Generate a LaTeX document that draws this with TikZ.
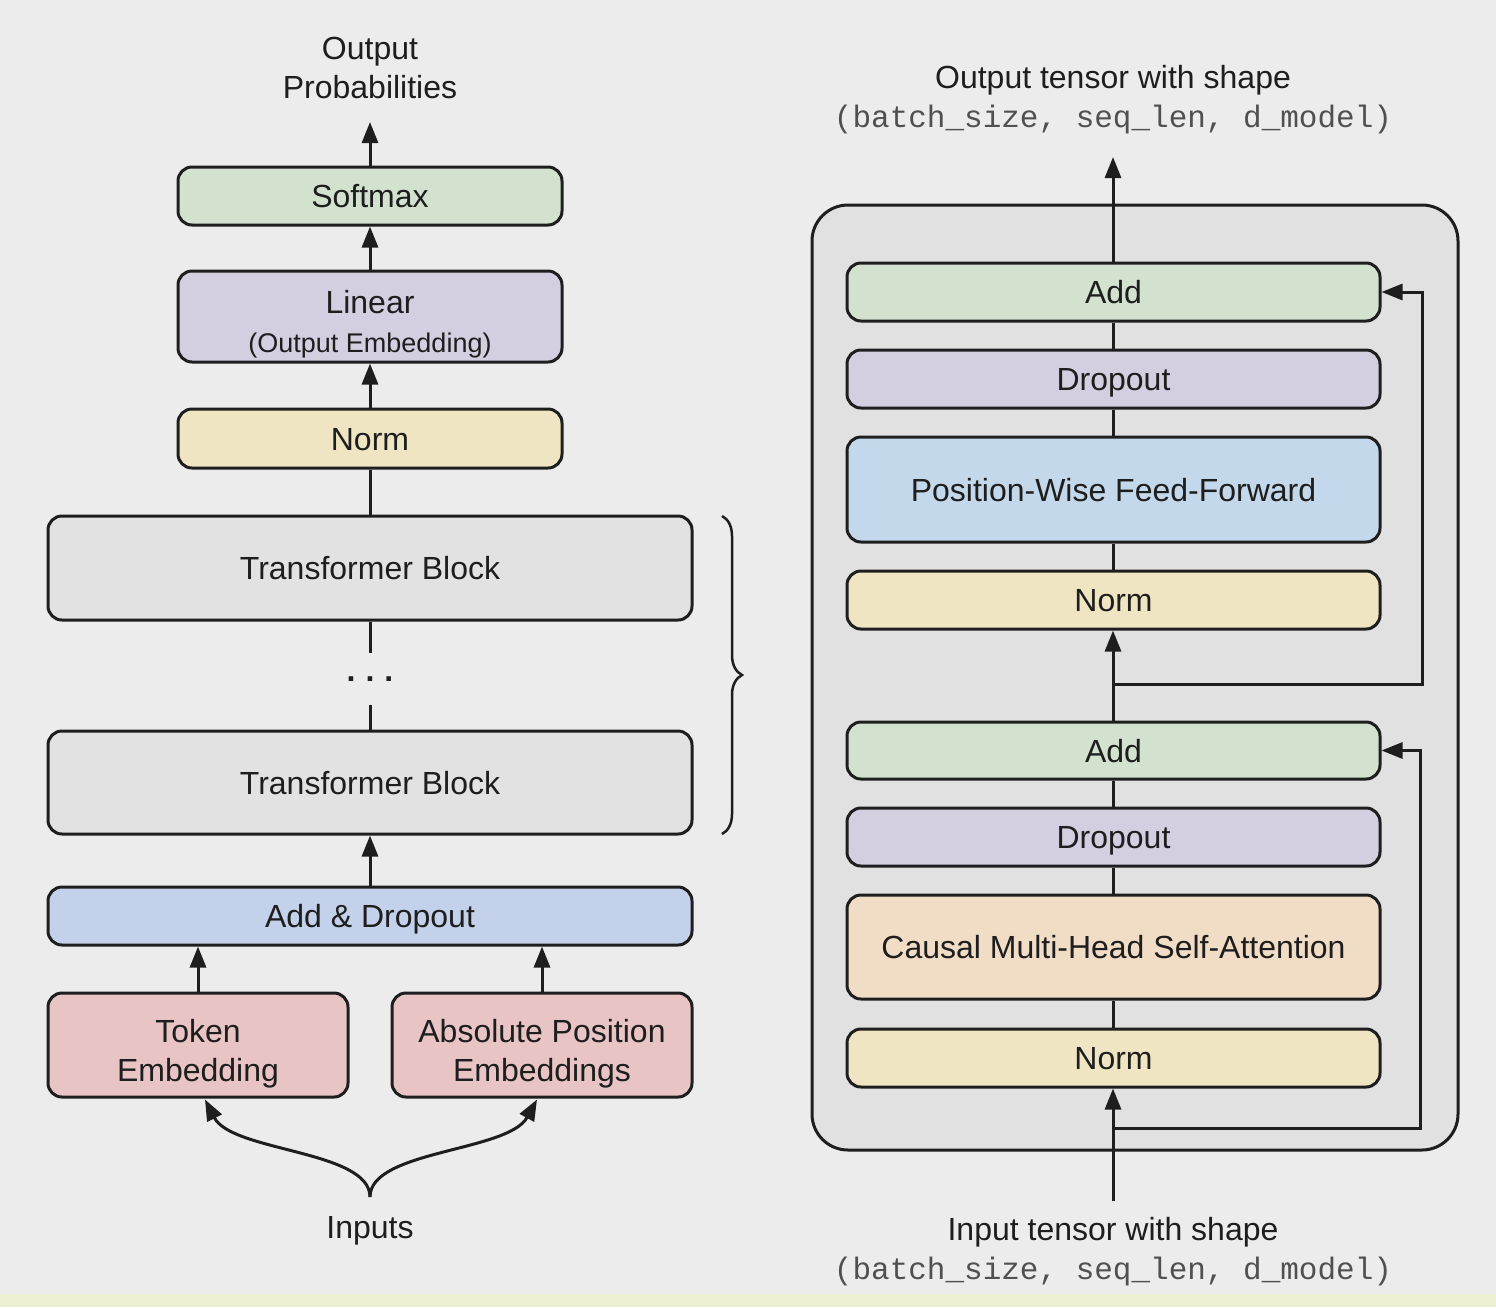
\documentclass[tikz,border=0pt]{standalone}
\usepackage{fontspec}
\setmainfont{Liberation Sans}
\setmonofont{Liberation Mono}
\usetikzlibrary{arrows.meta,decorations.pathreplacing,calc}
\definecolor{bgc}{HTML}{ECECEC}
\definecolor{stripc}{HTML}{EEF0D4}
\definecolor{outerc}{HTML}{E1E1E1}
\definecolor{greenc}{HTML}{D3E2CF}
\definecolor{purplec}{HTML}{D3CFE1}
\definecolor{yellowc}{HTML}{EFE5C3}
\definecolor{grayc}{HTML}{E2E2E2}
\definecolor{bluec}{HTML}{C3D2EA}
\definecolor{pinkc}{HTML}{E8C4C4}
\definecolor{skyc}{HTML}{C3D8EA}
\definecolor{orangec}{HTML}{F1DCC6}
\definecolor{inkc}{HTML}{1E1E1E}
\definecolor{monoc}{HTML}{505050}
\begin{document}
\begin{tikzpicture}[x=1pt,y=-1pt,
  every node/.style={text=inkc, font=\fontsize{32}{39}\selectfont},
  blk/.style={draw=inkc, line width=3pt, rounded corners=14pt, inner sep=0pt, align=center},
  one/.style={text height=24pt, text depth=1pt},
  arr/.style={draw=inkc, line width=3pt, -{Triangle[width=16pt,length=21pt]}},
  ln/.style={draw=inkc, line width=3pt},
  lbl/.style={align=center, inner sep=0pt}
]
\useasboundingbox (0,0) rectangle (1496,1307);
\fill[bgc] (0,0) rectangle (1496,1307);
\fill[stripc] (0,1294) rectangle (1496,1307);

% ---------------- left column ----------------
\node[lbl] (prob) at (370,68) {Output\\Probabilities};
\coordinate (probtip) at (370,122);
\node[blk, one, fill=greenc, minimum width=384pt, minimum height=58pt] (softmax) at (370,196) {Softmax};
\node[blk, fill=purplec, minimum width=384pt, minimum height=91pt] (linear) at (370,316.5)
  {\rule{0pt}{38pt}Linear\\[0pt]{\fontsize{27}{32}\selectfont (Output Embedding)}};
\node[blk, one, fill=yellowc, minimum width=384pt, minimum height=59pt] (normL) at (370,438.5) {Norm};
\node[blk, one, fill=grayc, minimum width=644pt, minimum height=104pt] (tb1) at (370,568) {Transformer Block};
\node[inner sep=0pt, minimum height=52pt] (dots) at (370,679) {\textbf{.\hspace{10pt}.\hspace{10pt}.}};
\node[blk, one, fill=grayc, minimum width=644pt, minimum height=103pt] (tb2) at (370,782.5) {Transformer Block};
\node[blk, one, fill=bluec, minimum width=644pt, minimum height=58pt] (ad) at (370,916) {Add \& Dropout};
\node[blk, fill=pinkc, minimum width=300pt, minimum height=104pt] (tok) at (198,1045) {\rule{0pt}{40pt}Token\\Embedding};
\node[blk, fill=pinkc, minimum width=300pt, minimum height=104pt] (ape) at (542,1045) {\rule{0pt}{40pt}Absolute Position\\Embeddings};
\node[lbl] (inputs) at (370,1231) {Inputs};
\coordinate (inp) at (370,1197);

\draw[arr] (softmax.north) -- (probtip);
\draw[arr] (linear.north) -- (softmax.south);
\draw[arr] (normL.north) -- (linear.south);
\draw[ln] (tb1.north) -- (normL.south);
\draw[ln] (tb1.south) -- (dots.north);
\draw[ln] (dots.south) -- (tb2.north);
\draw[arr] (ad.north) -- (tb2.south);
\draw[arr] (tok.north) -- (tok.north |- ad.south);
\draw[arr] (ape.north) -- (ape.north |- ad.south);
\draw[arr] (inp) .. controls (370,1150) and (232,1152) .. ($(tok.south)+(7,1)$);
\draw[arr] (inp) .. controls (370,1150) and (508,1152) .. ($(ape.south)+(-5,1)$);

\coordinate (bt) at (722,516);
\coordinate (bb) at (722,834);
\draw[ln, line width=2.5pt, decorate, decoration={brace, amplitude=20pt}] (bt) -- (bb);

% ---------------- right column ----------------
\draw[draw=inkc, line width=3pt, fill=outerc, rounded corners=36pt] (812,205) rectangle (1458,1150);
\node[lbl] (outl) at (1113,100) {Output tensor with shape\\[0pt]{\ttfamily\fontsize{31}{39}\selectfont\color{monoc}(batch\_size, seq\_len, d\_model)}};
\coordinate (outtip) at (1113,157);

\node[blk, one, fill=greenc, minimum width=533pt, minimum height=58pt] (add1) at (1113.5,292) {Add};
\node[blk, one, fill=purplec, minimum width=533pt, minimum height=58pt] (drop1) at (1113.5,379) {Dropout};
\node[blk, one, fill=skyc, minimum width=533pt, minimum height=105pt] (pwff) at (1113.5,489.5) {Position-Wise Feed-Forward};
\node[blk, one, fill=yellowc, minimum width=533pt, minimum height=58pt] (norm1) at (1113.5,600) {Norm};
\node[blk, one, fill=greenc, minimum width=533pt, minimum height=57pt] (add2) at (1113.5,750.5) {Add};
\node[blk, one, fill=purplec, minimum width=533pt, minimum height=58pt] (drop2) at (1113.5,837) {Dropout};
\node[blk, one, fill=orangec, minimum width=533pt, minimum height=104pt] (cmhsa) at (1113.5,947) {Causal Multi-Head Self-Attention};
\node[blk, one, fill=yellowc, minimum width=533pt, minimum height=58pt] (norm2) at (1113.5,1058) {Norm};

\node[lbl] (inl) at (1113,1252) {Input tensor with shape\\[0pt]{\ttfamily\fontsize{31}{39}\selectfont\color{monoc}(batch\_size, seq\_len, d\_model)}};
\coordinate (intail) at (1113,1201);
\coordinate (r1) at (1113,684);
\coordinate (r2) at (1113,1128);

\draw[arr] (add1.north -| outtip) -- (outtip);
\draw[ln] (drop1.north -| outtip) -- (add1.south -| outtip);
\draw[ln] (pwff.north -| outtip) -- (drop1.south -| outtip);
\draw[ln] (norm1.north -| outtip) -- (pwff.south -| outtip);
\draw[arr] (add2.north -| outtip) -- (norm1.south -| outtip);
\draw[ln] (drop2.north -| outtip) -- (add2.south -| outtip);
\draw[ln] (cmhsa.north -| outtip) -- (drop2.south -| outtip);
\draw[ln] (norm2.north -| outtip) -- (cmhsa.south -| outtip);
\draw[arr] (intail) -- (norm2.south -| outtip);
\draw[arr, rounded corners=0pt] (r1) -- (1422,684) |- (add1.east);
\draw[arr, rounded corners=0pt] (r2) -- (1420,1128) |- (add2.east);
\end{tikzpicture}
\end{document}
